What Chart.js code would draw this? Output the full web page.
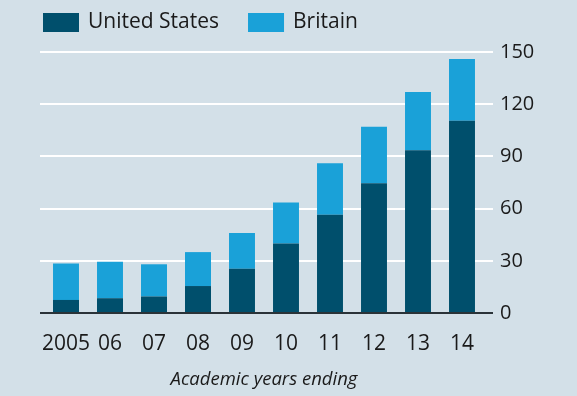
<!DOCTYPE html>
<html>
<head>
<meta charset="utf-8">
<script src="https://cdn.jsdelivr.net/npm/chart.js@4.4.1/dist/chart.umd.min.js"></script>
<style>
  html, body { margin: 0; padding: 0; background: #d3e0e8; }
  #wrap { width: 577px; height: 396px; position: relative; }
</style>
</head>
<body>
<div id="wrap"><canvas id="grafico"></canvas></div>
<script>
const years = ["2005", "06", "07", "08", "09", "10", "11", "12", "13", "14"];
const unitedStates = [7.5, 8.5, 9.5, 15.5, 25.5, 40, 56.5, 74.5, 93.5, 110.5];
const britain = [21, 21, 18.5, 19.5, 20.5, 23.5, 29.5, 32.5, 33.5, 35.5];
const yTicks = [0, 30, 60, 90, 120, 150];

const FONT = "'Open Sans', sans-serif";
const GRID_LEFT = 40, GRID_RIGHT = 493;

// white gridlines run a bit wider than the bars, dark zero line on top
const lineasPlugin = {
    id: "lineas",
    beforeDatasetsDraw(chart) {
        const ctx = chart.ctx, y = chart.scales.y;
        ctx.save();
        ctx.strokeStyle = "#ffffff";
        ctx.lineWidth = 2;
        yTicks.forEach(v => {
            if (v === 0) return;
            const py = Math.round(y.getPixelForValue(v));
            ctx.beginPath();
            ctx.moveTo(GRID_LEFT, py);
            ctx.lineTo(GRID_RIGHT, py);
            ctx.stroke();
        });
        ctx.restore();
    },
    afterDatasetsDraw(chart) {
        const ctx = chart.ctx, y = chart.scales.y;
        const py = Math.round(y.getPixelForValue(0));
        ctx.save();
        ctx.strokeStyle = "#2a3338";
        ctx.lineWidth = 2;
        ctx.beginPath();
        ctx.moveTo(GRID_LEFT, py);
        ctx.lineTo(GRID_RIGHT, py);
        ctx.stroke();
        ctx.restore();
    }
};

// legend in the top left corner, boxes flush with the gridlines
const leyendaPlugin = {
    id: "leyenda",
    afterDraw(chart) {
        const ctx = chart.ctx;
        let x = 43;
        ctx.save();
        ctx.font = "21px " + FONT;
        ctx.textBaseline = "middle";
        chart.data.datasets.forEach(ds => {
            ctx.fillStyle = ds.backgroundColor;
            ctx.fillRect(x, 13, 36, 19);
            ctx.fillStyle = "#1a1a1a";
            ctx.fillText(ds.label, x + 45, 22);
            x += 45 + ctx.measureText(ds.label).width + 29;
        });
        ctx.restore();
    }
};

new Chart(document.getElementById("grafico").getContext("2d"), {
    type: "bar",
    data: {
        labels: years,
        datasets: [
            { label: "United States", data: unitedStates, backgroundColor: "#004f6c" },
            { label: "Britain", data: britain, backgroundColor: "#1aa1d8" }
        ]
    },
    options: {
        responsive: true,
        maintainAspectRatio: false,
        animation: false,
        datasets: { bar: { categoryPercentage: 1, barPercentage: 0.59 } },
        layout: { padding: { left: 44, top: 52, right: 0, bottom: 0 } },
        plugins: {
            tooltip: { enabled: false },
            legend: { display: false }
        },
        scales: {
            x: {
                stacked: true,
                grid: { display: false, drawTicks: false },
                border: { display: false },
                ticks: {
                    color: "#1a1a1a",
                    font: { family: FONT, size: 21 },
                    padding: 18,
                    maxRotation: 0,
                    minRotation: 0,
                    autoSkip: false
                },
                title: {
                    display: true,
                    text: "Academic years ending",
                    color: "#1a1a1a",
                    font: { family: FONT, size: 18.5, style: "italic" },
                    padding: { top: 6, bottom: 5 }
                },
                afterFit: s => { s.height = 83; }
            },
            y: {
                stacked: true,
                position: "right",
                min: 0,
                max: 150,
                afterBuildTicks: s => { s.ticks = yTicks.map(v => ({ value: v })); },
                grid: { display: false, drawTicks: false },
                border: { display: false },
                ticks: { color: "#1a1a1a", font: { family: FONT, size: 20 }, padding: 16 },
                afterFit: s => { s.width = 93; }
            }
        }
    },
    plugins: [lineasPlugin, leyendaPlugin]
});
</script>
</body>
</html>
